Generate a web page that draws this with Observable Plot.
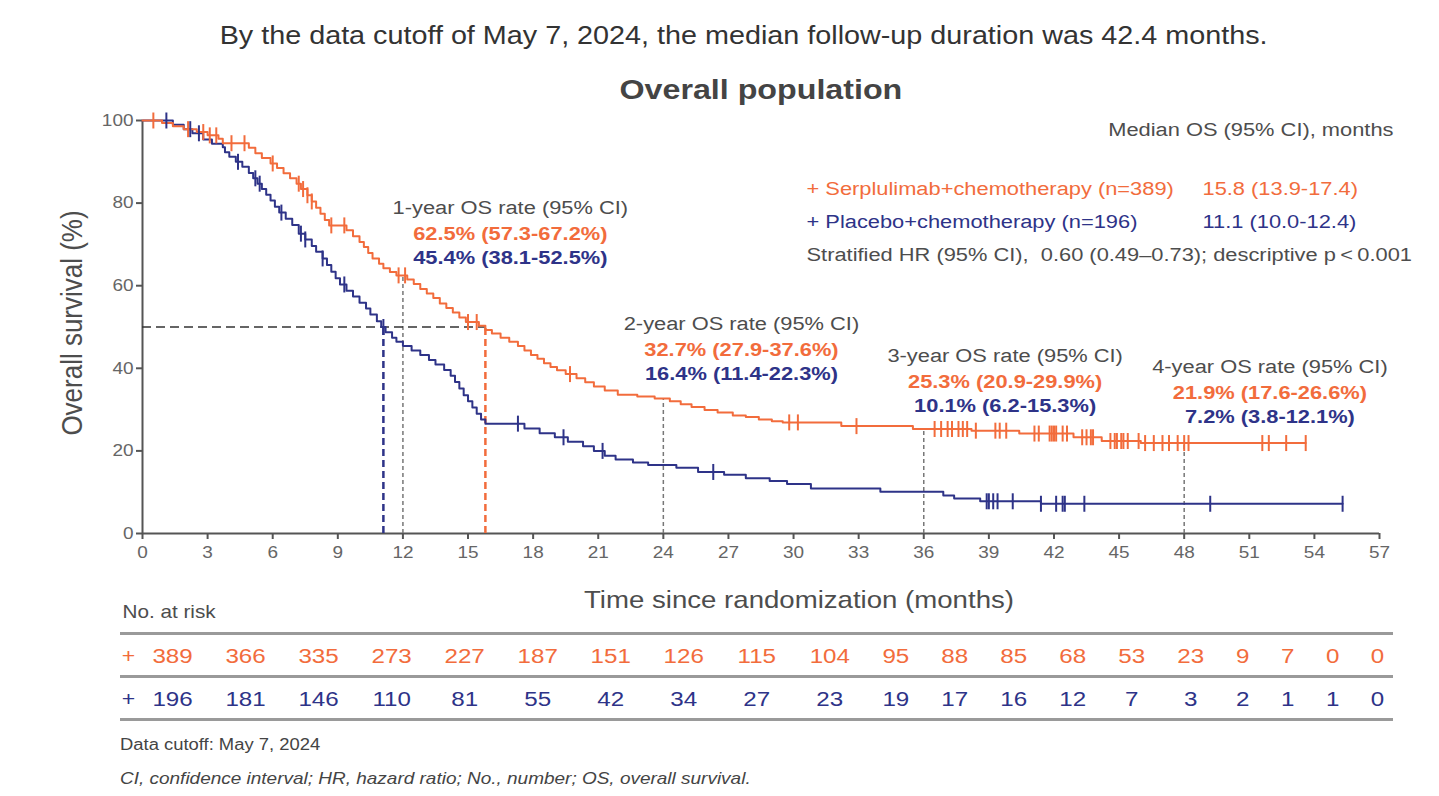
<!DOCTYPE html>
<html>
<head>
<meta charset="utf-8">
<script src="https://cdn.jsdelivr.net/npm/d3@7"></script>
<script src="https://cdn.jsdelivr.net/npm/@observablehq/plot@0.6"></script>
<style>
  body { margin: 0; background: #fff; font-family: "Liberation Sans", Arial, Helvetica, sans-serif; }
  #page { position: relative; width: 1439px; height: 796px; overflow: hidden; background: #fff; }
  .abs { position: absolute; }
  .wide { display: inline-block; transform: scaleX(1.15); }
  .center { text-align: center; width: 1439px; }
  .center .wide { transform-origin: center; }
  .left .wide { transform-origin: left; }
  #subtitle { top: 18px; left: 24px; font-size: 25px; line-height: 34px; color: #333; }
  #title { top: 72px; left: 41px; font-size: 28px; line-height: 36px; font-weight: bold; color: #444; }
  #chart { top: 100px; left: 0; }
  #risk { top: 595px; left: 0; }
  #cutoff { top: 735px; left: 120px; font-size: 16px; line-height: 20px; color: #444; }
  #abbrev { top: 768px; left: 120px; font-size: 16.5px; line-height: 20px; color: #444; font-style: italic; }
  svg { background: transparent; }
</style>
</head>
<body>
<div id="page">
  <div id="chart" class="abs"></div>
  <div id="risk" class="abs"></div>
  <div id="subtitle" class="abs center"><span class="wide">By the data cutoff of May 7, 2024, the median follow-up duration was 42.4 months.</span></div>
  <div id="title" class="abs center"><span class="wide">Overall population</span></div>
  <div id="cutoff" class="abs left"><span class="wide">Data cutoff: May 7, 2024</span></div>
  <div id="abbrev" class="abs left"><span class="wide">CI, confidence interval; HR, hazard ratio; No., number; OS, overall survival.</span></div>
</div>
<script>
// ---- Axis ticks ----
const xTicks = [0, 3, 6, 9, 12, 15, 18, 21, 24, 27, 30, 33, 36, 39, 42, 45, 48, 51, 54, 57];
const yTicks = [0, 20, 40, 60, 80, 100];

// ---- Arms ----
const arms = ["Serplulimab+chemotherapy", "Placebo+chemotherapy"];
const armN = [389, 196];
const medianOS = [15.8, 11.1];
const medianCI = ["13.9-17.4", "10.0-12.4"];

// ---- Kaplan-Meier step knots: Serplulimab+chemotherapy ----
const serpTime = [0, 0.9, 1.4, 1.9, 2.5, 3.0, 3.5, 3.7, 4.9, 5.2, 5.5, 5.9, 6.2, 6.5, 6.8, 7.1, 7.3, 7.6, 7.8, 8.0,
  8.2, 8.4, 8.6, 9.4, 9.7, 10.0, 10.2, 10.4, 10.6, 10.9, 11.1, 11.4, 11.7, 12.2, 12.5, 12.8, 13.1, 13.4, 13.7, 14.0,
  14.3, 14.6, 14.9, 15.5, 15.8, 16.1, 16.5, 16.9, 17.3, 17.6, 17.9, 18.2, 18.5, 18.8, 19.1, 19.5, 20.0, 20.4, 20.8, 21.3,
  21.9, 22.8, 23.6, 24.3, 24.8, 25.3, 25.9, 26.5, 27.2, 27.8, 28.4, 29.0, 29.5, 32.2, 35.5, 38.2, 40.4, 42.9, 44.2, 46.0, 53.6];
const serpSurv = [100, 99.4, 98.6, 97.9, 97.2, 96.4, 95.6, 94.5, 93.4, 92.1, 90.9, 89.6, 88.5, 87.2, 86.0, 84.7, 83.4, 81.9, 80.4, 78.9,
  77.4, 75.9, 74.6, 73.4, 72.0, 70.6, 69.4, 67.9, 66.6, 65.3, 64.2, 63.3, 62.5, 61.5, 60.4, 59.2, 58.1, 57.0, 55.7, 54.6,
  53.5, 52.3, 51.2, 50.3, 49.3, 48.4, 47.4, 46.4, 45.4, 44.3, 43.2, 42.3, 41.2, 40.3, 39.5, 38.6, 37.6, 36.6, 35.6, 34.6,
  33.6, 33.2, 32.7, 32.0, 31.3, 30.6, 29.9, 29.3, 28.6, 28.2, 27.6, 27.2, 26.9, 26.0, 25.3, 24.9, 24.2, 23.3, 22.4, 21.9, 21.9];
const serpCensor = [0.5, 2.1, 2.8, 3.1, 3.4, 4.1, 4.7, 6.0, 7.2, 7.4, 7.6, 7.8, 8.7, 9.3, 11.8, 12.1, 15.0, 15.4, 19.7,
  29.8, 30.2, 32.9, 36.5, 36.8, 37.1, 37.3, 37.6, 37.8, 38.0, 38.4, 39.3, 39.5, 39.8, 41.1, 41.3, 41.8, 41.9, 42.0, 42.1,
  42.4, 42.6, 43.3, 43.5, 43.7, 43.8, 44.6, 44.8, 44.9, 45.1, 45.2, 45.4, 45.9, 46.2, 46.6, 47.0, 47.3, 47.7, 48.0, 48.2,
  51.6, 51.9, 52.7, 53.6];

// ---- Kaplan-Meier step knots: Placebo+chemotherapy ----
const placTime = [0, 1.4, 1.9, 2.3, 2.8, 3.2, 3.7, 3.8, 4.0, 4.3, 4.6, 4.9, 5.1, 5.3, 5.5, 5.7, 5.9, 6.1, 6.3, 6.6,
  6.9, 7.2, 7.5, 7.8, 8.0, 8.3, 8.5, 8.7, 8.9, 9.1, 9.4, 9.7, 10.0, 10.3, 10.5, 10.8, 11.0, 11.2, 11.5, 11.7,
  12.0, 12.4, 12.8, 13.2, 13.5, 13.9, 14.2, 14.4, 14.6, 14.8, 15.0, 15.2, 15.4, 15.6, 15.8, 17.6, 18.3, 19.0, 19.6, 20.3,
  20.8, 21.3, 21.8, 22.6, 23.3, 24.6, 25.6, 26.8, 27.8, 28.9, 29.7, 30.8, 34.0, 36.9, 37.4, 38.6, 41.4, 55.3];
const placSurv = [100, 99.0, 97.9, 96.9, 95.4, 94.4, 93.5, 92.3, 91.2, 90.0, 88.8, 87.3, 86.0, 84.7, 83.4, 82.0, 80.6, 79.1, 77.7, 76.2,
  74.7, 72.6, 71.2, 69.6, 68.2, 66.6, 65.0, 63.4, 61.8, 60.3, 58.8, 57.4, 55.9, 54.5, 53.0, 51.4, 50.0, 48.7, 47.4, 46.4,
  45.4, 44.3, 43.2, 42.0, 40.9, 39.6, 38.2, 36.7, 35.1, 33.5, 32.0, 30.5, 29.0, 27.6, 26.6, 25.4, 24.3, 23.3, 22.2, 21.1,
  20.0, 18.8, 17.9, 17.2, 16.6, 15.9, 14.9, 14.2, 13.4, 12.7, 12.0, 10.9, 10.1, 9.2, 8.5, 7.8, 7.2, 7.2];
const placCensor = [1.1, 2.2, 2.6, 4.4, 5.2, 5.4, 6.4, 7.3, 7.5, 8.3, 9.3, 11.1, 17.3, 19.4, 21.2, 26.3,
  38.9, 39.0, 39.2, 39.4, 40.1, 41.4, 42.1, 42.4, 42.5, 43.4, 49.2, 55.3];

// ---- Landmark OS rates ----
const rateYears = ["1-year", "2-year", "3-year", "4-year"];
const rateMonths = [12, 24, 36, 48];
const serpRate = [62.5, 32.7, 25.3, 21.9];
const serpRateCI = ["57.3-67.2", "27.9-37.6", "20.9-29.9", "17.6-26.6"];
const placRate = [45.4, 16.4, 10.1, 7.2];
const placRateCI = ["38.1-52.5", "11.4-22.3", "6.2-15.3", "3.8-12.1"];

// ---- Number at risk, every 3 months ----
const atRiskSerp = [389, 366, 335, 273, 227, 187, 151, 126, 115, 104, 95, 88, 85, 68, 53, 23, 9, 7, 0, 0];
const atRiskPlac = [196, 181, 146, 110, 81, 55, 42, 34, 27, 23, 19, 17, 16, 12, 7, 3, 2, 1, 1, 0];

// ---- Styling ----
const orange = "#f26c3c";
const navy = "#2e3388";
const ink = "#4d4d4d";
const tickInk = "#666";
const axisInk = "#555";
const fontFamily = '"Liberation Sans", Arial, Helvetica, sans-serif';
const stretch = 1.15;            // wide lettering of the slide
// where the landmark annotation blocks sit (data units)
const rateLabelX = [16.95, 27.6, 39.75, 51.95];
const rateLabelY = [78.9, 50.8, 43.1, 40.4];

// ---- Derived tables ----
const toRows = (T, S) => T.map((t, i) => ({t, s: S[i]}));
const survivalAt = (T, S, t) => S[d3.bisectRight(T, t) - 1];
const serpCurve = toRows(serpTime, serpSurv);
const placCurve = toRows(placTime, placSurv);
const serpCens = serpCensor.map((t) => ({t, s: survivalAt(serpTime, serpSurv, t)}));
const placCens = placCensor.map((t) => ({t, s: survivalAt(placTime, placSurv, t)}));
const rateRows = rateYears.map((label, i) => ({
  label, month: rateMonths[i], lx: rateLabelX[i], ly: rateLabelY[i],
  serp: serpRate[i], serpCI: serpRateCI[i], plac: placRate[i], placCI: placRateCI[i]
}));

// vertical censor tick used as a dot symbol
const censorTick = {
  draw(context, size) {
    const r = Math.sqrt(size / Math.PI);
    context.moveTo(0, -r);
    context.lineTo(0, r);
  }
};

// stretch every label horizontally about its own anchor
function widenLetters(svg, k) {
  svg.querySelectorAll("text").forEach((el) => {
    const tr = el.getAttribute("transform") || "";
    if (tr.includes("rotate")) {
      el.setAttribute("transform", tr.replace("rotate", `scale(${k},1) rotate`));
    } else {
      const x = +el.getAttribute("x") || 0, y = +el.getAttribute("y") || 0;
      el.setAttribute("transform", `${tr} translate(${x},${y}) scale(${k},1) translate(${-x},${-y})`.trim());
    }
  });
}

// ---- Survival chart ----
const chart = Plot.plot({
  width: 1439,
  height: 520,
  marginTop: 20,
  marginBottom: 87,
  marginLeft: 142,
  marginRight: 60,
  style: {fontFamily, background: "transparent", overflow: "visible"},
  x: {domain: [0, 57]},
  y: {domain: [0, 100]},
  marks: [
    Plot.axisY({ticks: yTicks, tickSize: 6, tickPadding: 3, fontSize: 16.5, fill: tickInk, stroke: axisInk, strokeWidth: 2, label: null}),
    Plot.axisX({ticks: xTicks, tickSize: 6, tickPadding: 7, fontSize: 16.5, fill: tickInk, stroke: axisInk, strokeWidth: 2, label: null}),
    Plot.ruleY([0], {stroke: axisInk, strokeWidth: 2}),
    Plot.ruleX([0], {stroke: axisInk, strokeWidth: 2}),

    // landmark guides
    Plot.ruleX(rateRows, {x: "month", y1: 0, y2: "serp", stroke: "#777", strokeWidth: 1.5, strokeDasharray: "4,3"}),
    // median guides
    Plot.ruleY([50], {x1: 0, x2: medianOS[0], stroke: "#333", strokeWidth: 1.6, strokeDasharray: "9,5"}),
    Plot.ruleX([medianOS[1]], {x: (d) => d, y1: 0, y2: 50, stroke: navy, strokeWidth: 2.5, strokeDasharray: "7,4"}),
    Plot.ruleX([medianOS[0]], {x: (d) => d, y1: 0, y2: 50, stroke: orange, strokeWidth: 2.5, strokeDasharray: "7,4"}),

    // survival curves
    Plot.line(placCurve, {x: "t", y: "s", curve: "step-after", stroke: navy, strokeWidth: 2}),
    Plot.line(serpCurve, {x: "t", y: "s", curve: "step-after", stroke: orange, strokeWidth: 2}),
    Plot.dot(placCens, {x: "t", y: "s", symbol: censorTick, r: 8, stroke: navy, strokeWidth: 2, fill: "none"}),
    Plot.dot(serpCens, {x: "t", y: "s", symbol: censorTick, r: 8, stroke: orange, strokeWidth: 2, fill: "none"}),

    // axis titles
    Plot.text(["Time since randomization (months)"], {text: (d) => d, frameAnchor: "bottom", dx: 38, dy: 67, textAnchor: "middle", lineAnchor: "middle", fontSize: 24, fill: ink}),
    Plot.text(["Overall survival (%)"], {text: (d) => d, frameAnchor: "left", dx: -70, dy: -4, rotate: -90, textAnchor: "middle", lineAnchor: "middle", fontSize: 26, fill: ink}),

    // landmark annotations
    Plot.text(rateRows, {x: "lx", y: "ly", text: (d) => `${d.label} OS rate (95% CI)`, fontSize: 19, fill: ink}),
    Plot.text(rateRows, {x: "lx", y: "ly", dy: 26, text: (d) => `${d.serp.toFixed(1)}% (${d.serpCI}%)`, fontSize: 19, fontWeight: "bold", fill: orange}),
    Plot.text(rateRows, {x: "lx", y: "ly", dy: 50, text: (d) => `${d.plac.toFixed(1)}% (${d.placCI}%)`, fontSize: 19, fontWeight: "bold", fill: navy}),

    // legend block
    Plot.text(["Median OS (95% CI), months"], {text: (d) => d, frameAnchor: "top-right", dx: 14, dy: 9, textAnchor: "end", lineAnchor: "middle", fontSize: 19, fill: ink}),
    ...arms.map((arm, i) => Plot.text([arm], {
      text: (d) => `+ ${d} (n=${armN[i]})`, frameAnchor: "top-left", dx: 664, dy: 68 + 33 * i,
      textAnchor: "start", lineAnchor: "middle", fontSize: 19, fill: i === 0 ? orange : navy
    })),
    ...arms.map((arm, i) => Plot.text([medianOS[i]], {
      text: (d) => `${d.toFixed(1)} (${medianCI[i]})`, frameAnchor: "top-left", dx: 1060, dy: 68 + 33 * i,
      textAnchor: "start", lineAnchor: "middle", fontSize: 19, fill: i === 0 ? orange : navy
    })),
    Plot.text(["Stratified HR (95% CI),  0.60 (0.49\u20130.73); descriptive p\u2009<\u20090.001"], {
      text: (d) => d, frameAnchor: "top-left", dx: 664, dy: 134, textAnchor: "start", lineAnchor: "middle", fontSize: 19, fill: ink
    })
  ]
});
widenLetters(chart, stretch);
document.getElementById("chart").append(chart);

// ---- Number-at-risk table: column width follows the widest count ----
const colChars = atRiskSerp.map((v, i) => Math.max(String(v).length, String(atRiskPlac[i]).length));
const colWidth = colChars.map((c) => c + 2.2);
const colEnd = Array.from(d3.cumsum(colWidth));
const colCenter = colWidth.map((w, i) => colEnd[i] - w / 2);
const tableWidth = colEnd[colEnd.length - 1];
const riskRows = [
  ...atRiskSerp.map((n, i) => ({col: colCenter[i], row: 0.5, n, arm: 0})),
  ...atRiskPlac.map((n, i) => ({col: colCenter[i], row: 1.5, n, arm: 1}))
];

const risk = Plot.plot({
  width: 1439,
  height: 135,
  marginLeft: 120,
  marginRight: 46,
  marginTop: 38,
  marginBottom: 11,
  style: {fontFamily, background: "transparent", overflow: "visible"},
  x: {domain: [0, tableWidth], range: [135.5, 1399.5], axis: null},
  y: {domain: [0, 2], range: [38, 124], axis: null},
  marks: [
    Plot.ruleY([0, 1, 2], {stroke: "#9a9a9a", strokeWidth: 3}),
    Plot.text(["No. at risk"], {text: (d) => d, y: () => -0.5, frameAnchor: "left", dx: 2, textAnchor: "start", fontSize: 18, fill: ink}),
    ...arms.map((arm, i) => Plot.text([arm], {
      text: () => "+", y: () => i + 0.5, dy: 1.5, frameAnchor: "left", dx: 8, textAnchor: "middle",
      fontSize: 20, fill: i === 0 ? orange : navy
    })),
    ...arms.map((arm, i) => Plot.text(riskRows.filter((d) => d.arm === i), {
      x: "col", y: "row", dy: 1.5, text: "n", fontSize: 21, fill: i === 0 ? orange : navy
    }))
  ]
});
widenLetters(risk, stretch);
document.getElementById("risk").append(risk);
</script>
</body>
</html>
